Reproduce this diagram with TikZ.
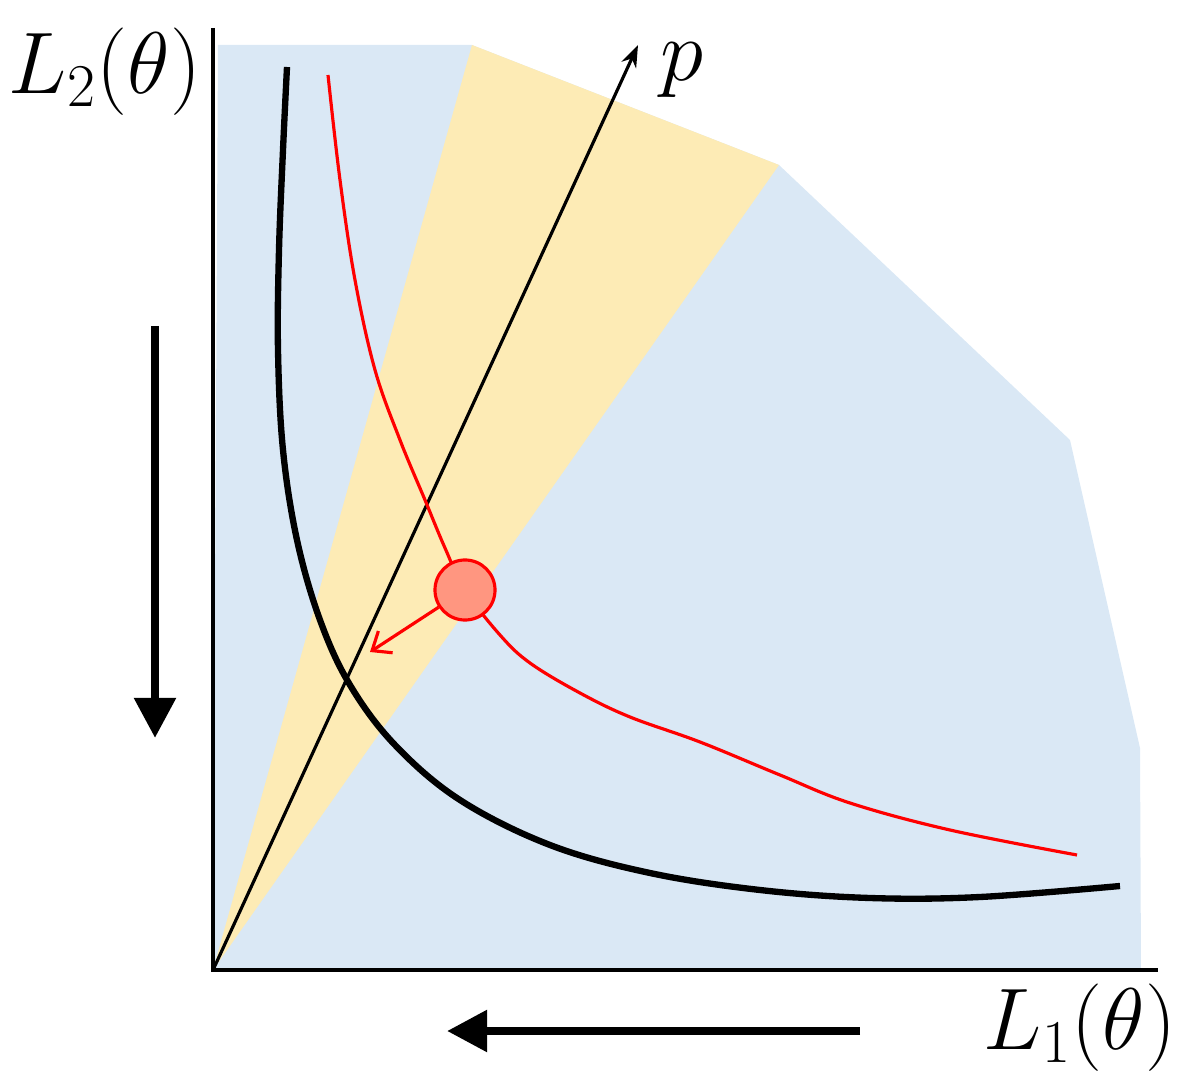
\documentclass[tikz,border=0pt]{standalone}
\usepackage{amsmath}
\usepackage{xcolor}
\usepackage{tikz}
\usetikzlibrary{
  arrows.meta,
  positioning
}
\definecolor{regionblue}{RGB}{218,232,245}
\definecolor{regionyellow}{RGB}{253,235,181}
\definecolor{pointfill}{RGB}{255,150,128}

\begin{document}
\begin{tikzpicture}[
  x=0.01cm, y=-0.01cm,
  axis/.style={line width=0.9pt},
  front/.style={line width=1.8pt},
  path-line/.style={red, line width=0.9pt},
  big-arrow/.style={line width=2.4pt, -{Triangle[width=4mm,length=4mm]}},
  label/.style={font=\fontsize{23}{27}\selectfont}
]
\useasboundingbox (0,0) rectangle (1187,1076);

\coordinate (origin) at (213,970);

% regions
\fill[regionblue] (218,45) -- (472,45) -- (779,165) -- (1070,440)
  -- (1140,748) -- (1141,970) -- (origin) -- cycle;
\fill[regionyellow] (origin) -- (472,45) -- (779,165) -- cycle;

% axes
\coordinate (y-top) at (213,28);
\coordinate (x-end) at (1158,970);
\draw[axis] (y-top) -- (origin) -- (x-end);

% preference direction
\coordinate (p-end) at (638,45);
\draw[axis, -{Stealth[length=2.2mm,width=1.6mm]}] (origin) -- (p-end);
\node[label] (p-label) at (682,70) {$p$};

% front
\draw[front] plot[smooth, tension=0.6] coordinates {
  (287,67) (283,150) (279,250) (278,350) (283,450) (297,540)
  (320,620) (350,685) (395,745) (460,800) (550,845) (650,873)
  (760,890) (870,898) (980,897) (1120,886)};

% trajectory
\draw[path-line] plot[smooth, tension=0.6] coordinates {
  (328,75) (340,180) (355,280) (375,370) (400,440) (425,500)
  (445,548) (465,590) (500,635) (530,663) (580,693) (630,717)
  (700,742) (780,775) (850,803) (950,830) (1077,855)};

\node[circle, draw=red, fill=pointfill, line width=0.9pt,
  minimum size=0.6cm, inner sep=0pt] (pareto-point) at (465,590) {};
\coordinate (step-end) at (370,652);
\draw[path-line, -{Straight Barb[length=1.6mm,width=2.6mm]}] (pareto-point) -- (step-end);

% labels
\node[label] (l2-label) at (105,72) {$L_2(\theta)$};
\node[label] (l1-label) at (1080,1028) {$L_1(\theta)$};

% decrease arrows
\coordinate (down-start) at (155,326);
\coordinate (down-end) at (155,738);
\draw[big-arrow] (down-start) -- (down-end);
\coordinate (left-start) at (860,1031);
\coordinate (left-end) at (447,1031);
\draw[big-arrow] (left-start) -- (left-end);
\end{tikzpicture}
\end{document}
